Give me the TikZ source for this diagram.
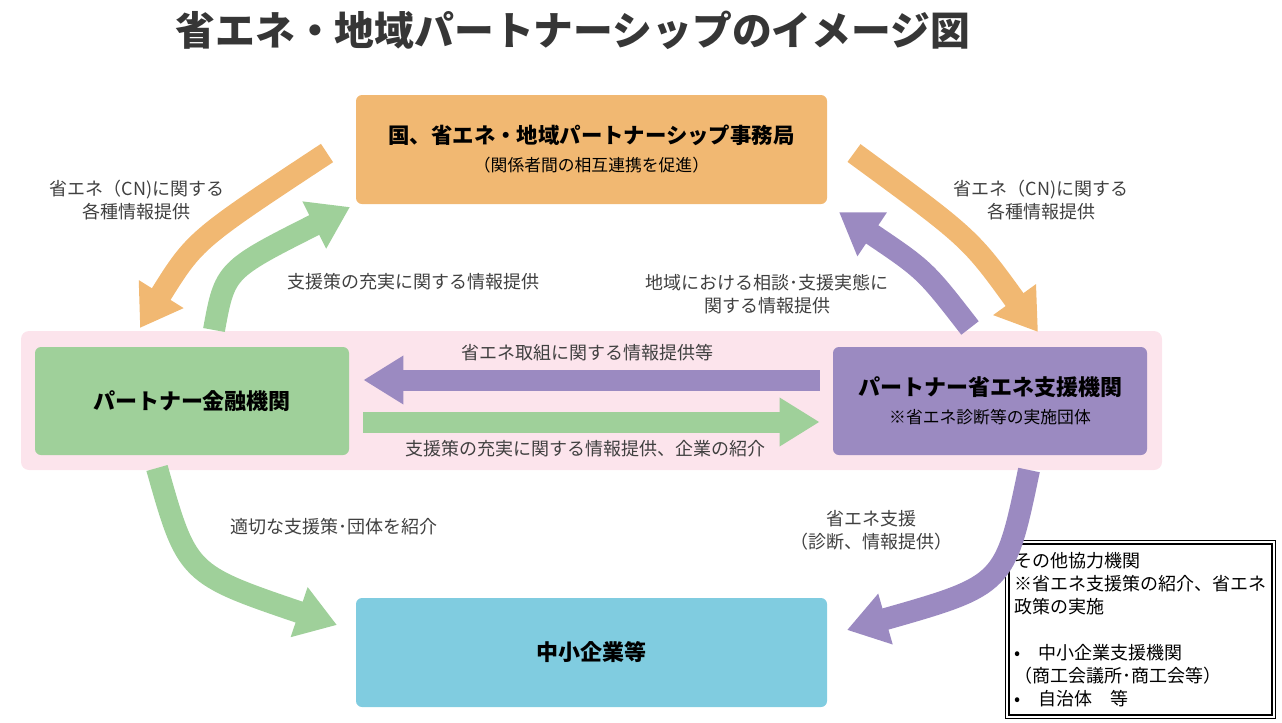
\documentclass[tikz,border=0pt]{standalone}
\usepackage{fontspec}
\setmainfont{Noto Sans CJK JP}
\usetikzlibrary{arrows.meta}
\definecolor{orgfill}{HTML}{F1B872}
\definecolor{grnfill}{HTML}{9FD09A}
\definecolor{purfill}{HTML}{9B8AC1}
\definecolor{cyanfill}{HTML}{80CCE0}
\definecolor{pinkfill}{HTML}{FCE4EC}
\definecolor{txtgray}{HTML}{404040}
\begin{document}
\begin{tikzpicture}[x=0.5pt,y=-0.5pt,
  box node/.style={rounded corners=3pt,minimum height=54.5pt,align=center,
    font=\bfseries\fontsize{11}{13}\selectfont},
  label node/.style={text=txtgray,align=center,font=\fontsize{9}{11.5}\selectfont},
  fat arrow/.style={line width=11pt,-{Triangle[width=25pt,length=20pt]}},
  flat arrow/.style={line width=10.5pt,-{Triangle[width=23pt,length=20pt]}}]

  \useasboundingbox (0,0) rectangle (1282,723);

  % title
  \node[text=txtgray!85!black,font=\bfseries\fontsize{19.9}{22}\selectfont] (0) at (573,30)
    {省エネ・地域パートナーシップのイメージ図};

  % pink band
  \fill[pinkfill,rounded corners=4pt] (21,331) rectangle (1162,470);

  % boxes
  \node[box node,fill=orgfill,minimum width=235.5pt,font=\bfseries\fontsize{10.7}{13}\selectfont] (1) at (591.5,149.5)
    {国、省エネ・地域パートナーシップ事務局\\[1pt]
     {\mdseries\fontsize{8.4}{10}\selectfont （関係者間の相互連携を促進）}};
  \node[box node,fill=grnfill,minimum width=157pt,minimum height=54pt] (2) at (192,401)
    {パートナー金融機関};
  \node[box node,fill=purfill,minimum width=157pt,minimum height=54pt] (3) at (990,401)
    {パートナー省エネ支援機関\\[1pt]
     {\mdseries\fontsize{8.4}{10}\selectfont ※省エネ診断等の実施団体}};
  \node[box node,fill=cyanfill,minimum width=235.5pt] (4) at (591.5,652.5)
    {中小企業等};
  \node[draw,line width=0.5pt,fill=white,
    anchor=north west,minimum width=135pt,minimum height=89pt,align=left,
    font=\fontsize{9}{11.5}\selectfont] (5) at (1005,540)
    {その他協力機関\\
     ※省エネ支援策の紹介、省エネ\\
     政策の実施\\
     \mbox{}\\
     •　中小企業支援機関\\
     （商工会議所･商工会等）\\
     •　自治体　等};
  \draw[line width=1pt] ([shift={(2pt,-2pt)}]5.north west) rectangle ([shift={(-2pt,2pt)}]5.south east);

  % arrow ends
  \coordinate (a1) at (327,153);
  \coordinate (b1) at (140,328);
  \coordinate (a2) at (214,330);
  \coordinate (b2) at (350,207);
  \coordinate (a3) at (854,153);
  \coordinate (b3) at (1038,332);
  \coordinate (a4) at (970,328);
  \coordinate (b4) at (839,212);
  \coordinate (a5) at (157,468);
  \coordinate (b5) at (337,625);
  \coordinate (a6) at (1029,470);
  \coordinate (b6) at (847,630);

  % curved arrows
  \draw[fat arrow,orgfill] (a1) .. controls (195,240) .. (b1);
  \draw[fat arrow,grnfill] (a2) .. controls (225,270) .. (b2);
  \draw[fat arrow,orgfill] (a3) .. controls (970,238) .. (b3);
  \draw[fat arrow,purfill] (a4) .. controls (925,270) .. (b4);
  \draw[fat arrow,grnfill] (a5) .. controls (187,574) .. (b5);
  \draw[fat arrow,purfill] (a6) .. controls (1005,585) .. (b6);

  % straight arrows
  \draw[flat arrow,purfill] ([xshift=-6.5pt,yshift=10.5pt]3.west) -- ([xshift=7pt,yshift=10.5pt]2.east);
  \draw[flat arrow,grnfill] ([xshift=7pt,yshift=-10.5pt]2.east) -- ([xshift=-6.5pt,yshift=-10.5pt]3.west);

  % labels
  \node[label node] (l1) at (137,200) {省エネ（CN)に関する\\各種情報提供};
  \node[label node] (l2) at (1041,200) {省エネ（CN)に関する\\各種情報提供};
  \node[label node] (l3) at (413,282) {支援策の充実に関する情報提供};
  \node[label node] (l4) at (767,294) {地域における相談･支援実態に\\関する情報提供};
  \node[label node] (l5) at (587,353) {省エネ取組に関する情報提供等};
  \node[label node] (l6) at (585,449) {支援策の充実に関する情報提供、企業の紹介};
  \node[label node] (l7) at (334,527) {適切な支援策･団体を紹介};
  \node[label node] (l8) at (871,530) {省エネ支援\\（診断、情報提供）};
\end{tikzpicture}
\end{document}
